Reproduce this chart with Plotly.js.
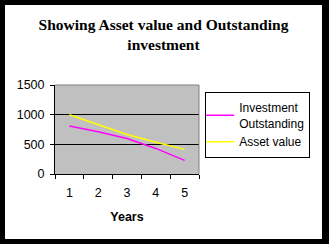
<!DOCTYPE html>
<html>
<head>
<meta charset="utf-8">
<script src="https://cdn.plot.ly/plotly-3.0.1.min.js"></script>
<style>
html,body{margin:0;padding:0;background:#000;width:329px;height:244px;overflow:hidden;}
#chart{position:absolute;left:5px;top:5px;width:317px;height:234px;background:#fff;}
</style>
</head>
<body>
<div id="chart"></div>
<script>
const years = ['1', '2', '3', '4', '5'];
const investmentOutstanding = [810, 712, 597, 431, 229];
const assetValue = [1000, 833, 666, 535, 415];
const yTicks = [0, 500, 1000, 1500];

const traces = [
  {x: years, y: investmentOutstanding, type: 'scatter', mode: 'lines',
   name: 'Investment<br>Outstanding', line: {color: '#ff00ff', width: 1.5}},
  {x: years, y: assetValue, type: 'scatter', mode: 'lines',
   name: 'Asset value', line: {color: '#ffff00', width: 1.5}}
];

const layout = {
  width: 317, height: 234,
  margin: {l: 50, r: 118, t: 80, b: 65},
  paper_bgcolor: '#ffffff',
  plot_bgcolor: '#c0c0c0',
  font: {family: 'Liberation Sans, Arial, sans-serif', size: 12.5, color: '#000'},
  title: {
    text: '<b>Showing Asset value and Outstanding<br>investment</b>',
    font: {family: 'Liberation Serif, Times New Roman, serif', size: 15.5, color: '#000'},
    x: 0.5, xanchor: 'center', xref: 'container',
    y: 1 - 25/234, yanchor: 'top', yref: 'container'
  },
  xaxis: {
    type: 'category',
    range: [-0.5, 4.5],
    tickson: 'boundaries',
    ticks: 'outside', ticklen: 4, tickcolor: '#000', tickwidth: 1,
    ticklabelstandoff: 7,
    showline: true, linecolor: '#000', linewidth: 1,
    showgrid: false, zeroline: false,
    title: {text: '<b>Years</b>', font: {size: 12.5}, standoff: 13}
  },
  yaxis: {
    range: [0, 1500],
    tickvals: yTicks,
    ticks: 'outside', ticklen: 4, tickcolor: '#000', tickwidth: 1,
    ticklabelstandoff: 3,
    showline: true, linecolor: '#000', linewidth: 1,
    showgrid: true, gridcolor: '#000', gridwidth: 1,
    zeroline: false
  },
  shapes: [
    {type: 'line', xref: 'paper', yref: 'paper', x0: 0, x1: 1, y0: 1, y1: 1, line: {color: '#808080', width: 1}, layer: 'above'},
    {type: 'line', xref: 'paper', yref: 'paper', x0: 1, x1: 1, y0: 0, y1: 1, line: {color: '#808080', width: 1}, layer: 'above'}
  ],
  showlegend: true,
  legend: {
    x: 1.772, xanchor: 'right', y: 0.921, yanchor: 'top',
    bordercolor: '#000', borderwidth: 1, bgcolor: '#fff',
    font: {size: 12}, tracegroupgap: 2, indentation: -7
  }
};

Plotly.newPlot('chart', traces, layout, {displayModeBar: false, staticPlot: true});
</script>
</body>
</html>
